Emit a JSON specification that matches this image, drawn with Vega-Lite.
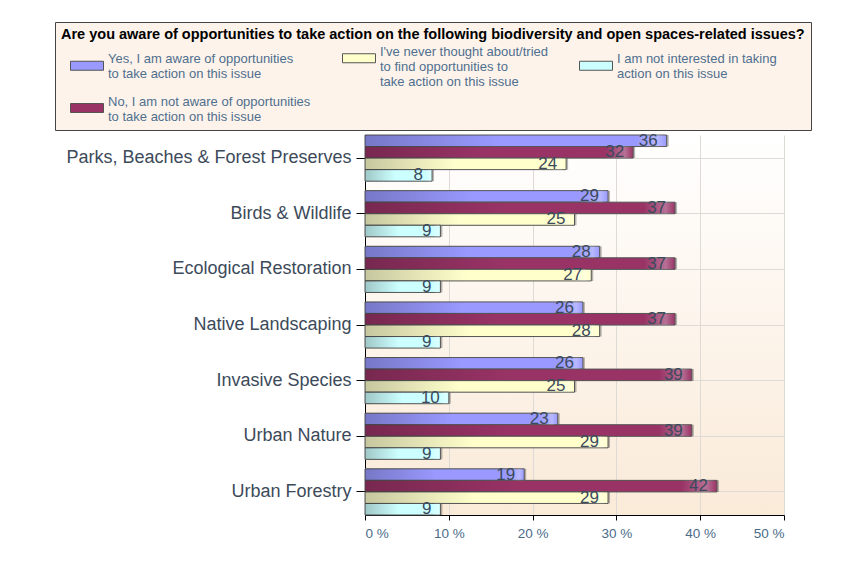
{
  "$schema": "https://vega.github.io/schema/vega-lite/v6.json",
  "width": 419,
  "height": 380,
  "autosize": "none",
  "padding": {"left": 365, "top": 135, "right": 62, "bottom": 46},
  "background": "#ffffff",
  "config": {
    "view": {
      "stroke": null,
      "fill": {"gradient": "linear", "x1": 0, "y1": 0, "x2": 0, "y2": 1,
        "stops": [{"offset": 0, "color": "#ffffff"}, {"offset": 1, "color": "#faead8"}]}
    },
    "font": "Liberation Sans"
  },
  "data": {
    "values": [
      {"issue": "Parks, Beaches & Forest Preserves", "response": "Yes, I am aware of opportunities\nto take action on this issue", "pct": 36},
      {"issue": "Parks, Beaches & Forest Preserves", "response": "No, I am not aware of opportunities\nto take action on this issue", "pct": 32},
      {"issue": "Parks, Beaches & Forest Preserves", "response": "I've never thought about/tried\nto find opportunities to\ntake action on this issue", "pct": 24},
      {"issue": "Parks, Beaches & Forest Preserves", "response": "I am not interested in taking\naction on this issue", "pct": 8},
      {"issue": "Birds & Wildlife", "response": "Yes, I am aware of opportunities\nto take action on this issue", "pct": 29},
      {"issue": "Birds & Wildlife", "response": "No, I am not aware of opportunities\nto take action on this issue", "pct": 37},
      {"issue": "Birds & Wildlife", "response": "I've never thought about/tried\nto find opportunities to\ntake action on this issue", "pct": 25},
      {"issue": "Birds & Wildlife", "response": "I am not interested in taking\naction on this issue", "pct": 9},
      {"issue": "Ecological Restoration", "response": "Yes, I am aware of opportunities\nto take action on this issue", "pct": 28},
      {"issue": "Ecological Restoration", "response": "No, I am not aware of opportunities\nto take action on this issue", "pct": 37},
      {"issue": "Ecological Restoration", "response": "I've never thought about/tried\nto find opportunities to\ntake action on this issue", "pct": 27},
      {"issue": "Ecological Restoration", "response": "I am not interested in taking\naction on this issue", "pct": 9},
      {"issue": "Native Landscaping", "response": "Yes, I am aware of opportunities\nto take action on this issue", "pct": 26},
      {"issue": "Native Landscaping", "response": "No, I am not aware of opportunities\nto take action on this issue", "pct": 37},
      {"issue": "Native Landscaping", "response": "I've never thought about/tried\nto find opportunities to\ntake action on this issue", "pct": 28},
      {"issue": "Native Landscaping", "response": "I am not interested in taking\naction on this issue", "pct": 9},
      {"issue": "Invasive Species", "response": "Yes, I am aware of opportunities\nto take action on this issue", "pct": 26},
      {"issue": "Invasive Species", "response": "No, I am not aware of opportunities\nto take action on this issue", "pct": 39},
      {"issue": "Invasive Species", "response": "I've never thought about/tried\nto find opportunities to\ntake action on this issue", "pct": 25},
      {"issue": "Invasive Species", "response": "I am not interested in taking\naction on this issue", "pct": 10},
      {"issue": "Urban Nature", "response": "Yes, I am aware of opportunities\nto take action on this issue", "pct": 23},
      {"issue": "Urban Nature", "response": "No, I am not aware of opportunities\nto take action on this issue", "pct": 39},
      {"issue": "Urban Nature", "response": "I've never thought about/tried\nto find opportunities to\ntake action on this issue", "pct": 29},
      {"issue": "Urban Nature", "response": "I am not interested in taking\naction on this issue", "pct": 9},
      {"issue": "Urban Forestry", "response": "Yes, I am aware of opportunities\nto take action on this issue", "pct": 19},
      {"issue": "Urban Forestry", "response": "No, I am not aware of opportunities\nto take action on this issue", "pct": 42},
      {"issue": "Urban Forestry", "response": "I've never thought about/tried\nto find opportunities to\ntake action on this issue", "pct": 29},
      {"issue": "Urban Forestry", "response": "I am not interested in taking\naction on this issue", "pct": 9}
    ]
  },
  "encoding": {
    "y": {
      "field": "issue", "type": "nominal", "sort": null,
      "scale": {"paddingInner": 0.17, "paddingOuter": 0},
      "axis": {
        "title": null, "labelFontSize": 18, "labelColor": "#3c4a5a", "labelPadding": 5,
        "tickSize": 9, "tickColor": "#000000", "domainColor": "#000000",
        "grid": true, "gridColor": "#dedad6", "labelLimit": 400
      }
    },
    "yOffset": {
      "field": "response", "type": "nominal",
      "sort": [
        "Yes, I am aware of opportunities\nto take action on this issue",
        "No, I am not aware of opportunities\nto take action on this issue",
        "I've never thought about/tried\nto find opportunities to\ntake action on this issue",
        "I am not interested in taking\naction on this issue"
      ]
    },
    "x": {
      "field": "pct", "type": "quantitative",
      "scale": {"domain": [0, 50], "nice": false},
      "axis": {
        "title": null, "values": [0, 10, 20, 30, 40, 50], "labelExpr": "datum.value + ' %'",
        "labelFontSize": 13.5, "labelColor": "#4a6b8a", "tickSize": 5, "tickColor": "#000000",
        "domainColor": "#000000", "grid": true, "gridColor": "#dedad6", "labelPadding": 6
      }
    }
  },
  "layer": [
    {
      "mark": {"type": "bar", "color": "#000000", "opacity": 0.28, "xOffset": 2, "yOffset": 2},
      "encoding": {}
    },
    {
      "mark": {"type": "bar", "stroke": "#555555", "strokeWidth": 1},
      "encoding": {
        "color": {
          "field": "response", "type": "nominal",
          "scale": {
            "domain": [
              "Yes, I am aware of opportunities\nto take action on this issue",
              "I've never thought about/tried\nto find opportunities to\ntake action on this issue",
              "I am not interested in taking\naction on this issue",
              "No, I am not aware of opportunities\nto take action on this issue"
            ],
            "range": ["#9999ff", "#ffffcc", "#ccffff", "#993366"]
          },
          "legend": {
            "orient": "none", "legendX": -310, "legendY": -113,
            "direction": "horizontal", "columns": 3, "gridAlign": "each",
            "title": "Are you aware of opportunities to take action on the following biodiversity and open spaces-related issues?",
            "titleFontSize": 14.5, "titleFontWeight": "bold", "titleColor": "#000000",
            "titleAnchor": "start", "titlePadding": -3.5, "titleLimit": 900,
            "symbolType": "M1.5,4 L18,4 L18,8.5 L1.5,8.5 Z",
            "symbolSize": 16, "symbolStrokeColor": "#555555", "symbolStrokeWidth": 1, "symbolOpacity": 1,
            "labelExpr": "split(datum.label, '\\n')",
            "labelFontSize": 13, "labelColor": "#4f6f8f", "labelBaseline": "top",
            "labelOffset": 34, "labelLimit": 400,
            "columnPadding": 22, "rowPadding": 0, "padding": 6,
            "fillColor": "#fdf3ea",
            "strokeColor": "#444444"
          }
        }
      }
    },
    {
      "mark": {"type": "bar",
        "fill": {"gradient": "linear", "x1": 0, "y1": 0, "x2": 1, "y2": 0,
          "stops": [{"offset": 0, "color": "rgba(0,0,0,0.22)"}, {"offset": 0.45, "color": "rgba(0,0,0,0)"}, {"offset": 0.9, "color": "rgba(255,255,255,0)"}, {"offset": 0.97, "color": "rgba(255,255,255,0.3)"}, {"offset": 1, "color": "rgba(255,255,255,0)"}]}},
      "encoding": {}
    },
    {
      "mark": {"type": "text", "align": "right", "baseline": "middle", "dx": -9, "fontSize": 17, "color": "#3b4a5c"},
      "encoding": {"text": {"field": "pct", "type": "quantitative"}}
    }
  ]
}
